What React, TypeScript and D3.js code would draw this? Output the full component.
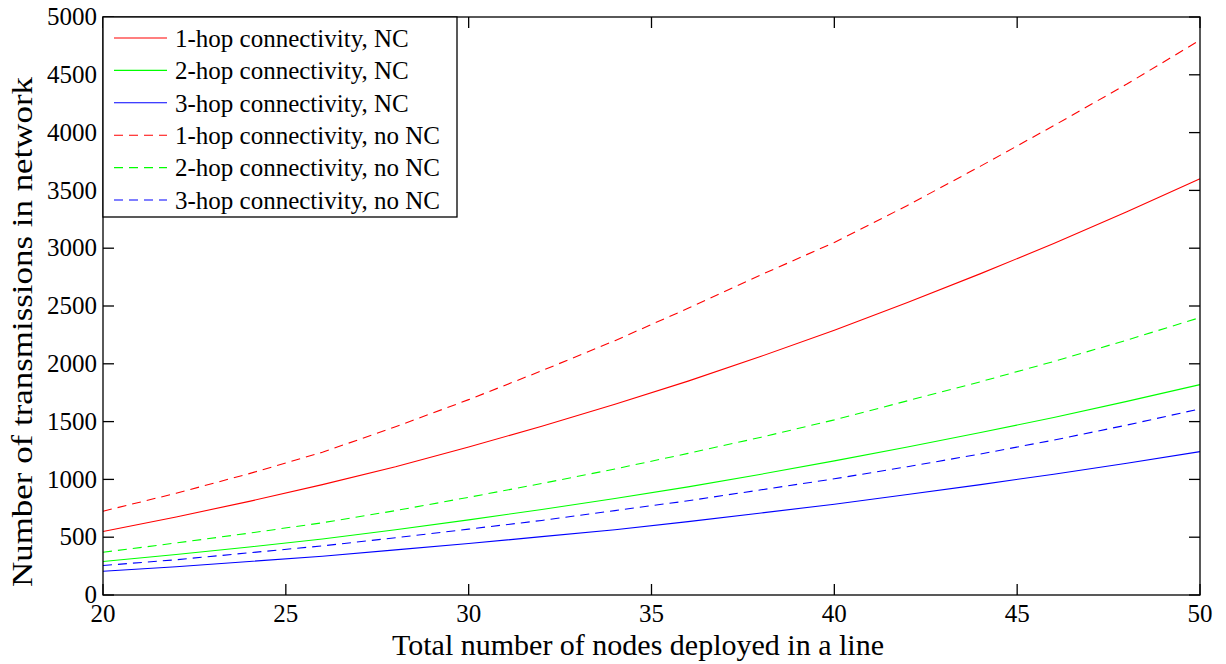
import React, { useEffect, useRef } from 'react';
import * as d3 from 'd3';

const nodes = [20, 22, 24, 26, 28, 30, 32, 34, 36, 38, 40, 42, 44, 46, 48, 50];

const oneHopNC = [550, 675, 810, 955, 1110, 1280, 1460, 1650, 1850, 2065, 2290, 2530, 2780, 3040, 3315, 3600];
const twoHopNC = [290, 350, 415, 485, 565, 650, 740, 835, 935, 1045, 1160, 1280, 1405, 1535, 1675, 1820];
const threeHopNC = [205, 245, 290, 335, 390, 445, 505, 565, 635, 710, 785, 870, 955, 1045, 1140, 1240];
const oneHopNoNC = [725, 880, 1050, 1235, 1455, 1690, 1940, 2200, 2480, 2770, 3050, 3370, 3710, 4060, 4420, 4800];
const twoHopNoNC = [370, 450, 535, 625, 730, 845, 965, 1090, 1225, 1365, 1515, 1680, 1845, 2020, 2205, 2400];
const threeHopNoNC = [255, 305, 365, 425, 495, 570, 645, 730, 815, 910, 1005, 1110, 1220, 1340, 1470, 1610];

const xTicks = [20, 25, 30, 35, 40, 45, 50];
const yTicks = [0, 500, 1000, 1500, 2000, 2500, 3000, 3500, 4000, 4500, 5000];

const series = [
  { label: '1-hop connectivity, NC', values: oneHopNC, color: '#ff0000', dashed: false },
  { label: '2-hop connectivity, NC', values: twoHopNC, color: '#00ff00', dashed: false },
  { label: '3-hop connectivity, NC', values: threeHopNC, color: '#0000ff', dashed: false },
  { label: '1-hop connectivity, no NC', values: oneHopNoNC, color: '#ff0000', dashed: true },
  { label: '2-hop connectivity, no NC', values: twoHopNoNC, color: '#00ff00', dashed: true },
  { label: '3-hop connectivity, no NC', values: threeHopNoNC, color: '#0000ff', dashed: true },
];

export default function App() {
  const svgRef = useRef<SVGSVGElement>(null);
  const width = 1226;
  const height = 664;

  useEffect(() => {
    const svg = d3.select(svgRef.current);
    svg.selectAll('*').remove();

    const left = 103, right = 1200, top = 17, bottom = 595;
    const font = '"Liberation Serif", "Times New Roman", serif';

    const x = d3.scaleLinear().domain([20, 50]).range([left, right]);
    const y = d3.scaleLinear().domain([0, 5000]).range([bottom, top]);

    svg.append('rect')
      .attr('x', 0).attr('y', 0).attr('width', width).attr('height', height)
      .style('fill', '#fff');

    // Lines
    const line = d3.line<number>()
      .x((_, i) => x(nodes[i]))
      .y(d => y(d));

    series.forEach(s => {
      svg.append('path')
        .datum(s.values)
        .attr('d', line)
        .style('fill', 'none')
        .style('stroke', s.color)
        .style('stroke-width', 1.1)
        .style('stroke-dasharray', s.dashed ? '9,6' : null);
    });

    // Axes box and ticks (inward, mirrored)
    const tickLen = 11;
    const axis = svg.append('g').style('stroke', '#000').style('stroke-width', 1.3);
    axis.append('rect')
      .attr('x', left).attr('y', top)
      .attr('width', right - left).attr('height', bottom - top)
      .style('fill', 'none');

    xTicks.forEach(t => {
      axis.append('line').attr('x1', x(t)).attr('x2', x(t)).attr('y1', bottom).attr('y2', bottom - tickLen);
      axis.append('line').attr('x1', x(t)).attr('x2', x(t)).attr('y1', top).attr('y2', top + tickLen);
    });
    yTicks.forEach(t => {
      axis.append('line').attr('x1', left).attr('x2', left + tickLen).attr('y1', y(t)).attr('y2', y(t));
      axis.append('line').attr('x1', right).attr('x2', right - tickLen).attr('y1', y(t)).attr('y2', y(t));
    });

    // Tick labels
    svg.selectAll('.xlab')
      .data(xTicks)
      .enter()
      .append('text')
      .attr('x', d => x(d))
      .attr('y', 622)
      .attr('text-anchor', 'middle')
      .style('font-family', font)
      .style('font-size', '25px')
      .style('fill', '#000')
      .text(d => d);

    svg.selectAll('.ylab')
      .data(yTicks)
      .enter()
      .append('text')
      .attr('x', left - 6)
      .attr('y', d => y(d))
      .attr('dy', '0.33em')
      .attr('text-anchor', 'end')
      .style('font-family', font)
      .style('font-size', '25px')
      .style('fill', '#000')
      .text(d => d);

    // Axis titles
    svg.append('text')
      .attr('x', 638)
      .attr('y', 655)
      .attr('text-anchor', 'middle')
      .style('font-family', font)
      .style('font-size', '30px')
      .style('fill', '#000')
      .text('Total number of nodes deployed in a line');

    svg.append('text')
      .attr('transform', `translate(32,332) rotate(-90)`)
      .attr('text-anchor', 'middle')
      .attr('textLength', 510)
      .attr('lengthAdjust', 'spacingAndGlyphs')
      .style('font-family', font)
      .style('font-size', '30px')
      .style('fill', '#000')
      .text('Number of transmissions in network');

    // Legend
    const legend = svg.append('g');
    legend.append('rect')
      .attr('x', left).attr('y', top)
      .attr('width', 354).attr('height', 200)
      .style('fill', '#fff')
      .style('stroke', '#000')
      .style('stroke-width', 1.3);

    series.forEach((s, i) => {
      const ly = 38 + i * 32.4;
      legend.append('line')
        .attr('x1', 114).attr('x2', 167)
        .attr('y1', ly).attr('y2', ly)
        .style('stroke', s.color)
        .style('stroke-width', 1.1)
        .style('stroke-dasharray', s.dashed ? '9,6' : null);
      legend.append('text')
        .attr('x', 175)
        .attr('y', ly)
        .attr('dy', '0.35em')
        .style('font-family', font)
        .style('font-size', '25px')
        .style('fill', '#000')
        .text(s.label);
    });
  }, []);

  return (
    <svg
      ref={svgRef}
      width={width}
      height={height}
      style={{ position: 'absolute', left: 0, top: 0, display: 'block' }}
    />
  );
}
